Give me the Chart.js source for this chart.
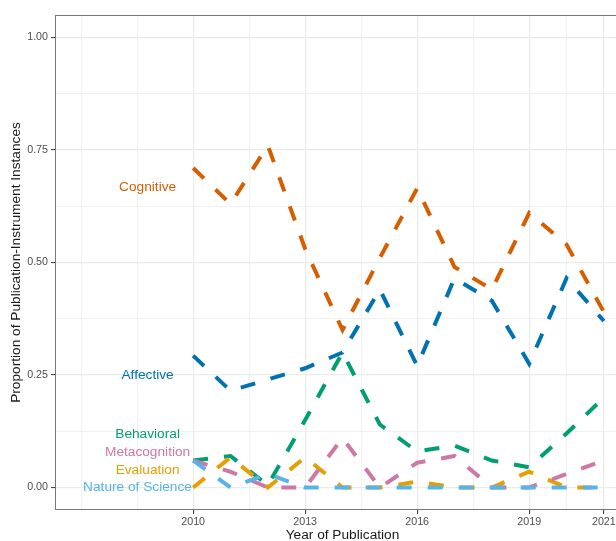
<!DOCTYPE html>
<html>
<head>
<meta charset="utf-8">
<script src="https://cdn.jsdelivr.net/npm/chart.js@4.4.1/dist/chart.umd.min.js"></script>
<style>
  html, body { margin: 0; padding: 0; background: #fff; overflow: hidden; }
  #wrap { width: 616px; height: 541px; overflow: hidden; }
  canvas { display: block; }
</style>
</head>
<body>
<div id="wrap"><canvas id="chart" width="640" height="541"></canvas></div>
<script>
// years and proportions
const years = [2010, 2011, 2012, 2013, 2014, 2015, 2016, 2017, 2018, 2019, 2020, 2021];
const affective = [0.293, 0.215, 0.24, 0.265, 0.30, 0.44, 0.27, 0.465, 0.415, 0.275, 0.465, 0.37];
const behavioral = [0.06, 0.07, 0.005, 0.15, 0.30, 0.14, 0.08, 0.093, 0.06, 0.045, 0.12, 0.20];
const cognitive = [0.71, 0.63, 0.76, 0.53, 0.35, 0.51, 0.665, 0.49, 0.44, 0.61, 0.54, 0.39];
const evaluation = [0.0, 0.067, 0.0, 0.067, 0.0, 0.0, 0.013, 0.0, 0.0, 0.035, 0.0, 0.0];
const metacognition = [0.06, 0.035, 0.0, 0.0, 0.11, 0.0, 0.055, 0.07, 0.0, 0.0, 0.03, 0.06];
const natureOfScience = [0.06, 0.0, 0.03, 0.0, 0.0, 0.0, 0.0, 0.0, 0.0, 0.0, 0.0, 0.0];

const seriesNames = ['Affective', 'Behavioral', 'Cognitive', 'Evaluation', 'Metacognition', 'Nature of Science'];
const seriesValues = [affective, behavioral, cognitive, evaluation, metacognition, natureOfScience];
const seriesColors = ['#0072B2', '#009E73', '#D55E00', '#E69F00', '#CC79A7', '#56B4E9'];

// where the series names sit (data units)
const labelX = [2008.78, 2008.78, 2008.78, 2008.78, 2008.78, 2008.51];
const labelY = [0.249, 0.119, 0.668, 0.038, 0.078, 0.0];

const xMajorTicks = [2010, 2013, 2016, 2019, 2021];
const xMinorTicks = [2007, 2008.5, 2011.5, 2014.5, 2017.5, 2020];
const yMajorTicks = [0, 0.25, 0.5, 0.75, 1];
const yMinorTicks = [0.125, 0.375, 0.625, 0.875];

Chart.defaults.font.family = '"Liberation Sans", Arial, sans-serif';

const isMajorX = v => xMajorTicks.includes(v);
const isMajorY = v => yMajorTicks.includes(v);

// panel border + direct labels
const panelAndLabels = {
  id: 'panelAndLabels',
  afterDatasetsDraw(chart) {
    const { ctx, chartArea: a, scales: { x, y } } = chart;
    ctx.save();
    ctx.font = '13.7px "Liberation Sans", Arial, sans-serif';
    ctx.textAlign = 'center';
    ctx.textBaseline = 'middle';
    seriesNames.forEach((name, i) => {
      ctx.fillStyle = seriesColors[i];
      ctx.fillText(name, x.getPixelForValue(labelX[i]), y.getPixelForValue(labelY[i]));
    });
    ctx.strokeStyle = '#777';
    ctx.lineWidth = 1;
    ctx.strokeRect(a.left + 0.5, a.top + 0.5, a.width - 1, a.height - 1);
    ctx.restore();
  }
};

const ctx = document.getElementById('chart').getContext('2d');

new Chart(ctx, {
  type: 'line',
  data: {
    datasets: seriesNames.map((name, i) => ({
      label: name,
      data: years.map((yr, j) => ({ x: yr, y: seriesValues[i][j] })),
      borderColor: seriesColors[i],
      borderWidth: 4,
      borderDash: [15, 16],
      borderCapStyle: 'butt',
      pointRadius: 0,
      tension: 0,
      fill: false,
      order: seriesNames.length - i
    }))
  },
  options: {
    responsive: false,
    animation: false,
    devicePixelRatio: 1,
    layout: { padding: { top: 15, right: 10, left: 0, bottom: 0 } },
    plugins: {
      legend: { display: false },
      tooltip: { enabled: false }
    },
    scales: {
      x: {
        type: 'linear',
        min: 2006.3,
        max: 2021.7,
        afterBuildTicks: s => { s.ticks = xMinorTicks.concat(xMajorTicks).sort((a, b) => a - b).map(v => ({ value: v })); },
        afterFit: s => { s.height = 31; },
        border: { display: false },
        grid: {
          color: '#EBEBEB',
          lineWidth: c => isMajorX(c.tick.value) ? 1.2 : 0.7,
          tickLength: 4,
          tickWidth: 1,
          tickColor: c => isMajorX(c.tick.value) ? '#333333' : 'rgba(0,0,0,0)'
        },
        ticks: {
          autoSkip: false,
          maxRotation: 0,
          padding: 2,
          color: '#4D4D4D',
          font: { size: 10.7 },
          callback: v => isMajorX(v) ? String(v) : ''
        },
        title: {
          display: true,
          text: 'Year of Publication',
          color: '#1A1A1A',
          font: { size: 13.7 },
          padding: { top: 0, bottom: -2 }
        }
      },
      y: {
        min: -0.05,
        max: 1.05,
        afterBuildTicks: s => { s.ticks = yMinorTicks.concat(yMajorTicks).sort((a, b) => a - b).map(v => ({ value: v })); },
        afterFit: s => { s.width = 55; },
        border: { display: false },
        grid: {
          color: '#EBEBEB',
          lineWidth: c => isMajorY(c.tick.value) ? 1.2 : 0.7,
          tickLength: 4,
          tickWidth: 1,
          tickColor: c => isMajorY(c.tick.value) ? '#333333' : 'rgba(0,0,0,0)'
        },
        ticks: {
          autoSkip: false,
          padding: 3,
          color: '#4D4D4D',
          font: { size: 10.7 },
          callback: v => isMajorY(v) ? v.toFixed(2) : ''
        },
        title: {
          display: true,
          text: 'Proportion of Publication-Instrument Instances',
          color: '#1A1A1A',
          font: { size: 13.7 },
          padding: { top: 8, bottom: 0 }
        }
      }
    }
  },
  plugins: [panelAndLabels]
});
</script>
</body>
</html>
